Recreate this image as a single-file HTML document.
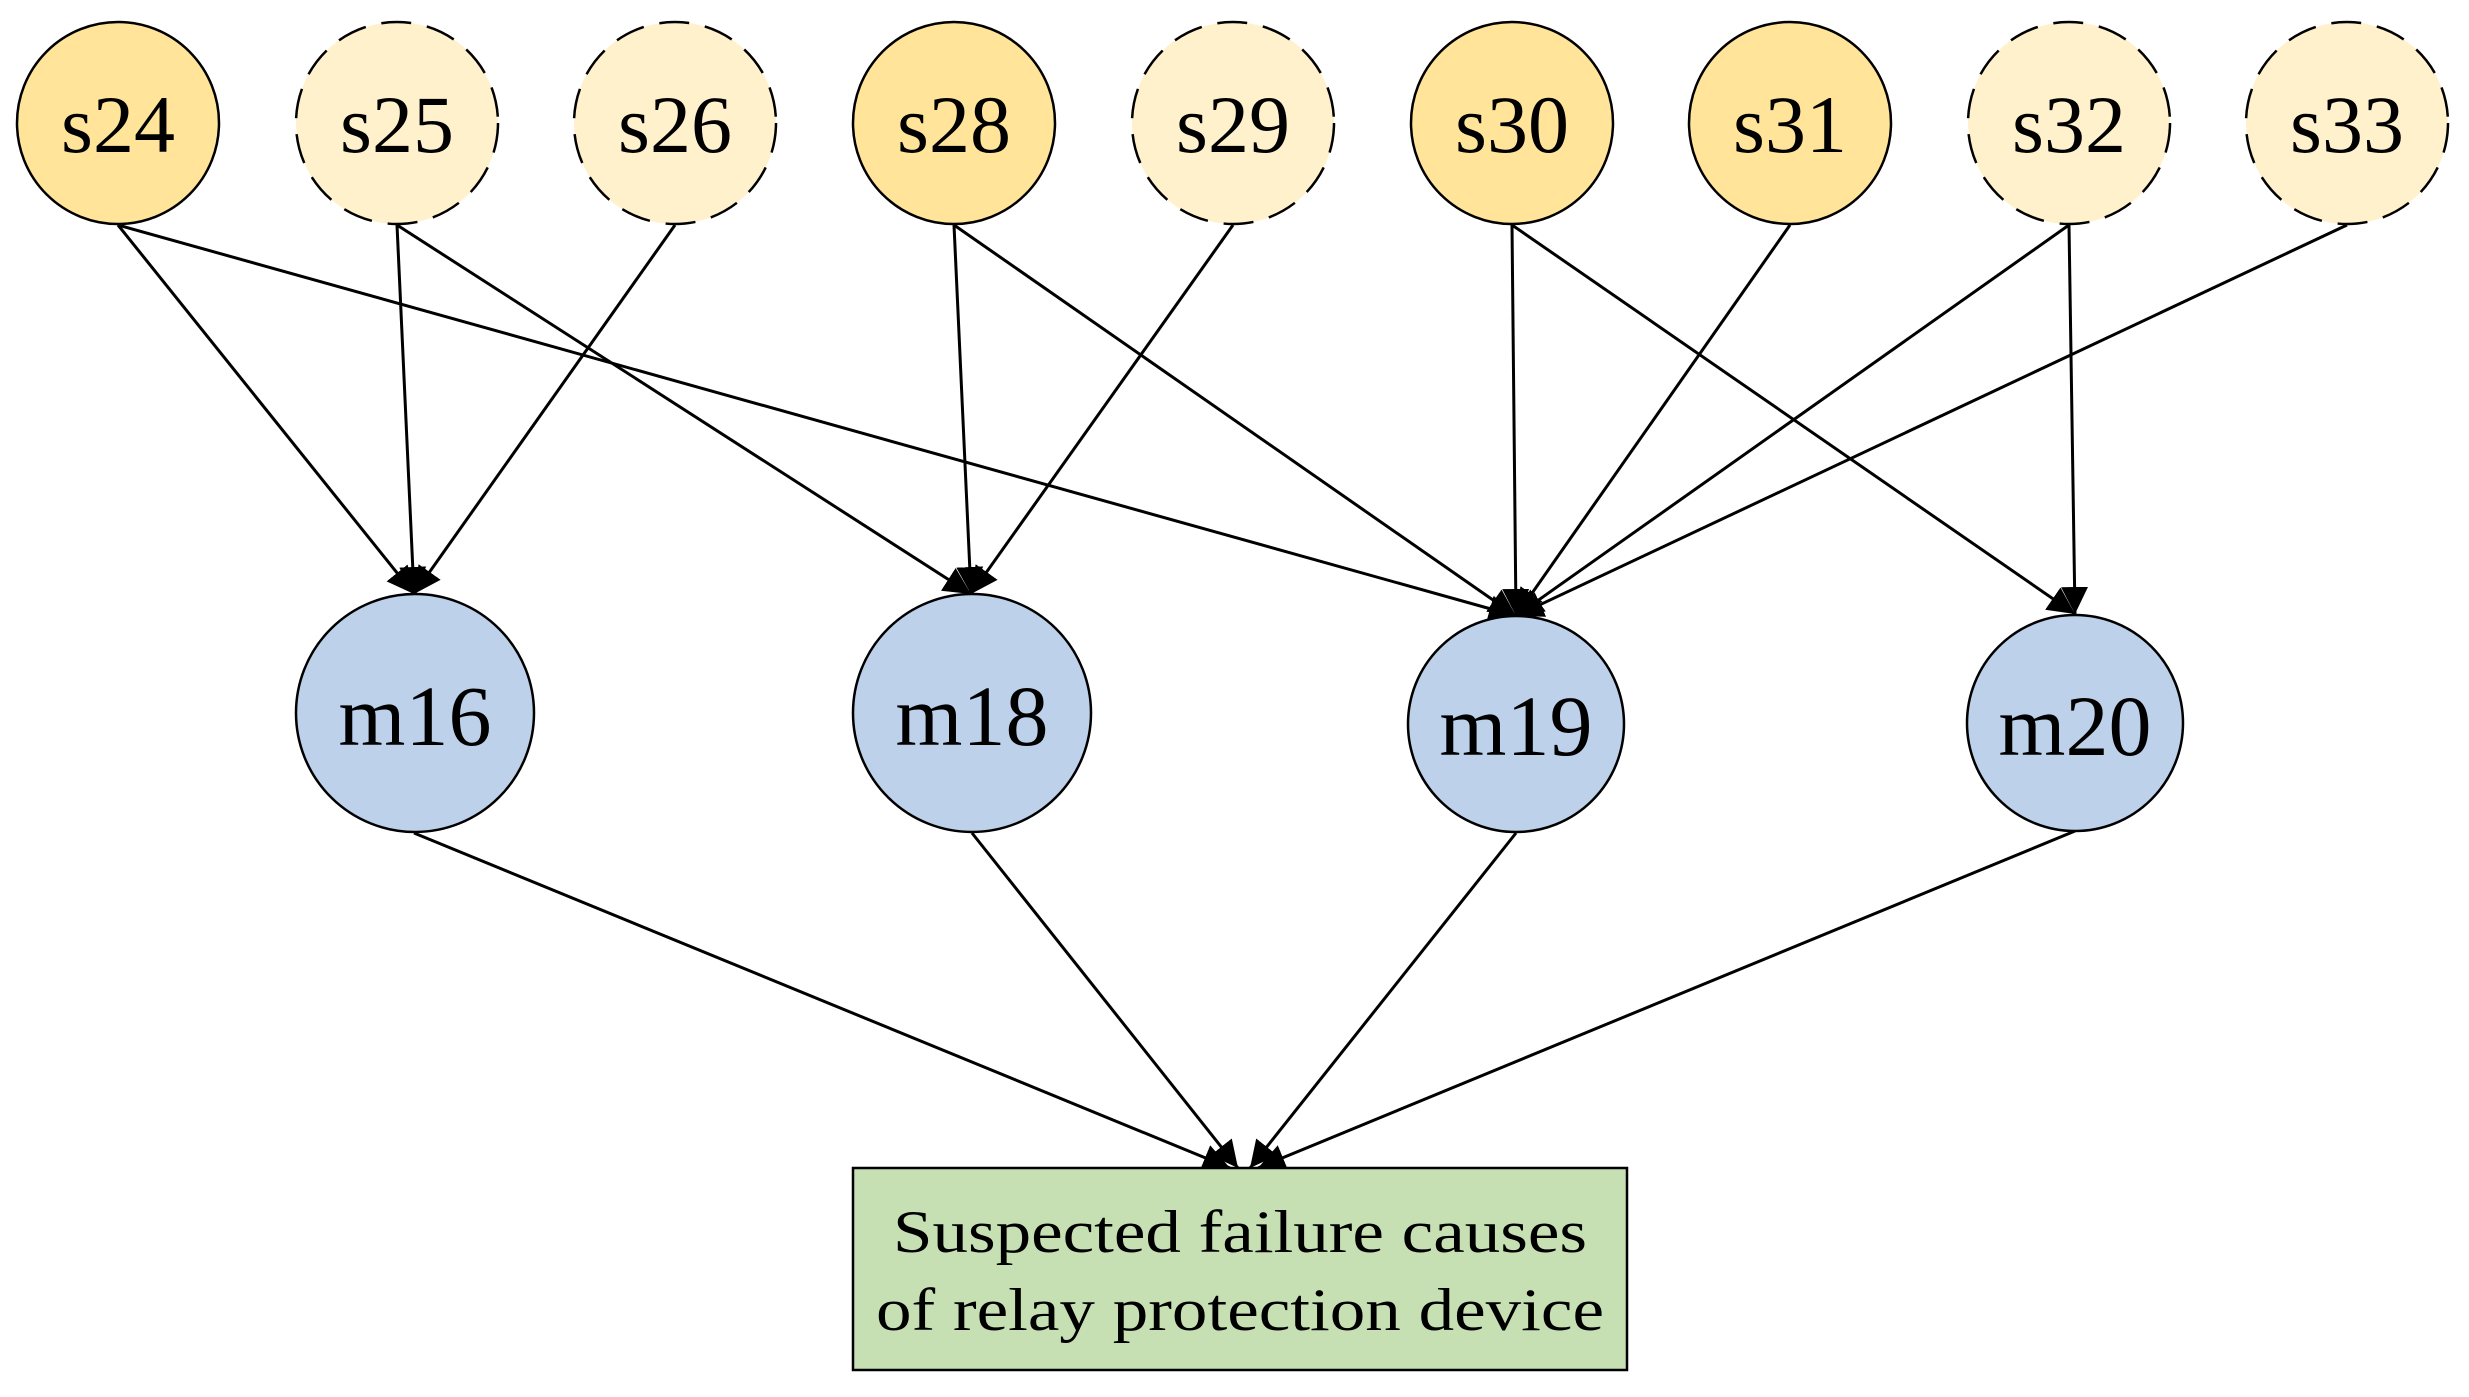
<!DOCTYPE html>
<html><head><meta charset="utf-8"><style>html,body{margin:0;padding:0;background:#fff}</style></head>
<body>
<svg width="2469" height="1392" viewBox="0 0 2469 1392" xmlns="http://www.w3.org/2000/svg">
<defs>
<marker id="b" viewBox="0 0 10 10" refX="10" refY="5" markerWidth="9" markerHeight="9" orient="auto">
<path d="M0,0 L10,5 L0,10 z" fill="#000"/></marker>
</defs>
<g stroke="#000" stroke-width="3" fill="none" marker-end="url(#b)">
<line x1="118" y1="225" x2="414" y2="594"/>
<line x1="118" y1="225" x2="1516" y2="616"/>
<line x1="397" y1="225" x2="414" y2="594"/>
<line x1="397" y1="225" x2="971" y2="594"/>
<line x1="675" y1="225" x2="414" y2="594"/>
<line x1="954" y1="225" x2="971" y2="594"/>
<line x1="954" y1="225" x2="1516" y2="616"/>
<line x1="1233" y1="225" x2="971" y2="594"/>
<line x1="1512" y1="225" x2="1516" y2="616"/>
<line x1="1512" y1="225" x2="2075" y2="614"/>
<line x1="1790" y1="225" x2="1516" y2="616"/>
<line x1="2069" y1="225" x2="1516" y2="616"/>
<line x1="2069" y1="225" x2="2075" y2="614"/>
<line x1="2347" y1="225" x2="1516" y2="616"/>
<line x1="414" y1="833" x2="1230" y2="1168"/>
<line x1="972" y1="833" x2="1238" y2="1168"/>
<line x1="1516" y1="833" x2="1250" y2="1168"/>
<line x1="2075" y1="831" x2="1258" y2="1168"/>
</g>
<g stroke="#000" stroke-width="2.5">
<circle cx="118" cy="123" r="101" fill="#ffe49a"/>
<circle cx="397" cy="123" r="101" fill="#fff1cc" stroke-dasharray="30,16"/>
<circle cx="675" cy="123" r="101" fill="#fff1cc" stroke-dasharray="30,16"/>
<circle cx="954" cy="123" r="101" fill="#ffe49a"/>
<circle cx="1233" cy="123" r="101" fill="#fff1cc" stroke-dasharray="30,16"/>
<circle cx="1512" cy="123" r="101" fill="#ffe49a"/>
<circle cx="1790" cy="123" r="101" fill="#ffe49a"/>
<circle cx="2069" cy="123" r="101" fill="#fff1cc" stroke-dasharray="30,16"/>
<circle cx="2347" cy="123" r="101" fill="#fff1cc" stroke-dasharray="30,16"/>
<circle cx="415" cy="713" r="119" fill="#bdd1ea"/>
<circle cx="972" cy="713" r="119" fill="#bdd1ea"/>
<circle cx="1516" cy="724" r="108" fill="#bdd1ea"/>
<circle cx="2075" cy="723" r="108" fill="#bdd1ea"/>
<rect x="853" y="1168" width="774" height="202" fill="#c6e0b4"/>
</g>
<g font-family="'Liberation Serif', serif" font-size="82" text-anchor="middle" fill="#000">
<text x="118" y="152">s24</text>
<text x="397" y="152">s25</text>
<text x="675" y="152">s26</text>
<text x="954" y="152">s28</text>
<text x="1233" y="152">s29</text>
<text x="1512" y="152">s30</text>
<text x="1790" y="152">s31</text>
<text x="2069" y="152">s32</text>
<text x="2347" y="152">s33</text>
<text x="415" y="745" font-size="86">m16</text>
<text x="972" y="745" font-size="86">m18</text>
<text x="1516" y="755" font-size="86">m19</text>
<text x="2075" y="755" font-size="86">m20</text>
<text x="1240" y="1252" font-size="60" textLength="694" lengthAdjust="spacingAndGlyphs">Suspected failure causes</text>
<text x="1240" y="1330" font-size="60" textLength="728" lengthAdjust="spacingAndGlyphs">of relay protection device</text>
</g>
</svg>
</body></html>
